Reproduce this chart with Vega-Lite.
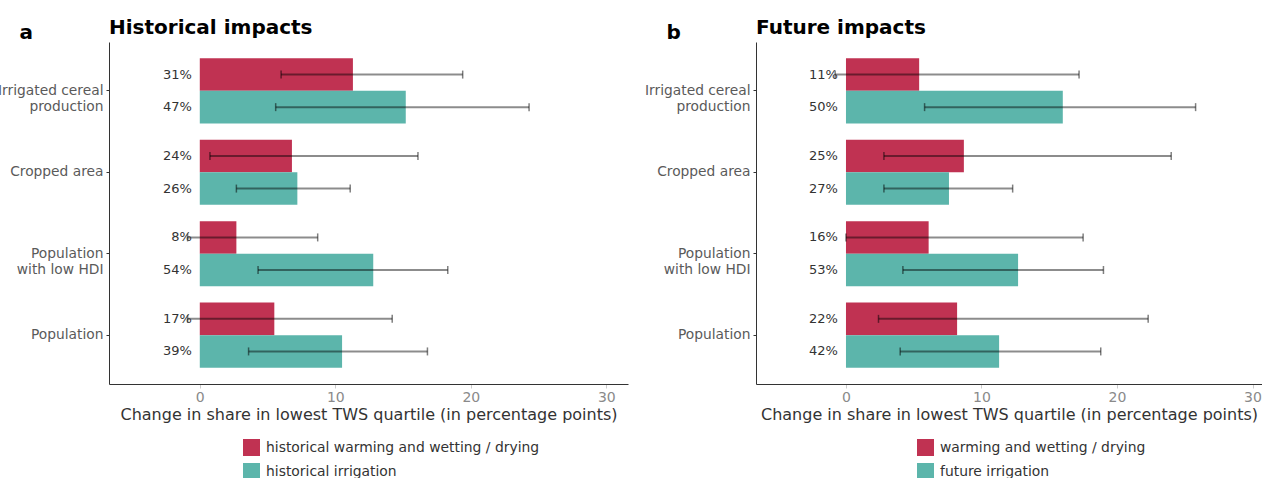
{
  "$schema": "https://vega.github.io/schema/vega-lite/v6.json",
  "background": "white",
  "padding": {"left": -3, "top": 17, "right": 0, "bottom": 0},
  "config": {
    "font": "DejaVu Sans",
    "view": {"stroke": null},
    "axis": {"grid": false},
    "title": {"anchor": "start", "frame": "group", "fontSize": 20, "fontWeight": "bold", "color": "#000000", "offset": -15.5}
  },
  "datasets": {
    "historical": [
      {"measure": "Irrigated cereal production", "driver": "historical warming and wetting / drying", "share": 11.3, "low": 6.0, "high": 19.4, "label": "31%"},
      {"measure": "Irrigated cereal production", "driver": "historical irrigation", "share": 15.2, "low": 5.6, "high": 24.3, "label": "47%"},
      {"measure": "Cropped area", "driver": "historical warming and wetting / drying", "share": 6.8, "low": 0.75, "high": 16.1, "label": "24%"},
      {"measure": "Cropped area", "driver": "historical irrigation", "share": 7.2, "low": 2.7, "high": 11.1, "label": "26%"},
      {"measure": "Population with low HDI", "driver": "historical warming and wetting / drying", "share": 2.7, "low": -0.9, "high": 8.7, "label": "8%"},
      {"measure": "Population with low HDI", "driver": "historical irrigation", "share": 12.8, "low": 4.3, "high": 18.3, "label": "54%"},
      {"measure": "Population", "driver": "historical warming and wetting / drying", "share": 5.5, "low": -0.9, "high": 14.2, "label": "17%"},
      {"measure": "Population", "driver": "historical irrigation", "share": 10.5, "low": 3.6, "high": 16.8, "label": "39%"}
    ],
    "future": [
      {"measure": "Irrigated cereal production", "driver": "warming and wetting / drying", "share": 5.4, "low": -0.8, "high": 17.2, "label": "11%"},
      {"measure": "Irrigated cereal production", "driver": "future irrigation", "share": 16.0, "low": 5.8, "high": 25.8, "label": "50%"},
      {"measure": "Cropped area", "driver": "warming and wetting / drying", "share": 8.7, "low": 2.8, "high": 24.0, "label": "25%"},
      {"measure": "Cropped area", "driver": "future irrigation", "share": 7.6, "low": 2.8, "high": 12.3, "label": "27%"},
      {"measure": "Population with low HDI", "driver": "warming and wetting / drying", "share": 6.1, "low": 0.0, "high": 17.5, "label": "16%"},
      {"measure": "Population with low HDI", "driver": "future irrigation", "share": 12.7, "low": 4.2, "high": 19.0, "label": "53%"},
      {"measure": "Population", "driver": "warming and wetting / drying", "share": 8.2, "low": 2.4, "high": 22.3, "label": "22%"},
      {"measure": "Population", "driver": "future irrigation", "share": 11.3, "low": 4.0, "high": 18.8, "label": "42%"}
    ]
  },
  "spacing": 16,
  "resolve": {
    "scale": {"x": "independent", "y": "independent", "yOffset": "independent", "color": "independent"},
    "legend": {"color": "independent"}
  },
  "hconcat": [
    {
      "width": 519,
      "height": 342,
      "title": {"text": "Historical impacts"},
      "data": {"name": "historical"},
      "encoding": {
        "y": {
          "field": "measure", "type": "nominal",
          "sort": ["Irrigated cereal production", "Cropped area", "Population with low HDI", "Population"],
          "scale": {"paddingInner": 0.2, "paddingOuter": 0.2},
          "axis": {
            "title": "a", "titleAngle": 0, "titleX": -90, "titleY": -4, "titleAlign": "left", "titleBaseline": "alphabetic",
            "titleFontSize": 20, "titleFontWeight": "bold", "titleColor": "#000000",
            "labelExpr": "datum.value == 'Irrigated cereal production' ? ['Irrigated cereal', 'production'] : datum.value == 'Population with low HDI' ? ['Population', 'with low HDI'] : datum.value",
            "labelFontSize": 13.8, "labelColor": "#5a5a5a", "labelPadding": 3, "labelLimit": 300,
            "tickSize": 3, "tickColor": "#333333", "domainColor": "#333333"
          }
        },
        "yOffset": {"field": "driver", "type": "nominal", "scale": {"domain": ["historical warming and wetting / drying", "historical irrigation"]}}
      },
      "layer": [
        {
          "mark": {"type": "bar"},
          "encoding": {
            "x": {
              "field": "share", "type": "quantitative",
              "title": "Change in share in lowest TWS quartile (in percentage points)",
              "scale": {"domain": [-6.7, 31.6], "nice": false, "zero": false},
              "axis": {
                "values": [0, 10, 20, 30], "labelFontSize": 14, "labelColor": "#8a8a8a", "labelPadding": 2,
                "tickColor": "#cccccc", "tickSize": 4, "domainColor": "#333333",
                "titleFontSize": 16, "titleFontWeight": "normal", "titleColor": "#333333", "titlePadding": 2
              }
            },
            "color": {
              "field": "driver", "type": "nominal",
              "scale": {"domain": ["historical warming and wetting / drying", "historical irrigation"], "range": ["#C03252", "#5CB5AB"]},
              "legend": {
                "title": null, "orient": "none", "legendX": 134, "legendY": 397, "padding": 0,
                "symbolType": "square", "symbolSize": 289, "symbolStrokeWidth": 0, "symbolOpacity": 1,
                "labelFontSize": 13.9, "labelColor": "#333333", "labelOffset": 6, "rowPadding": 7, "labelLimit": 400
              }
            }
          }
        },
        {
          "mark": {"type": "rule", "color": "#000000", "opacity": 0.45, "strokeWidth": 2},
          "encoding": {
            "x": {"field": "low", "type": "quantitative", "title": "Change in share in lowest TWS quartile (in percentage points)"},
            "x2": {"field": "high"}
          }
        },
        {
          "mark": {"type": "tick", "color": "#000000", "opacity": 0.5, "thickness": 1.5, "size": 8},
          "encoding": {"x": {"field": "low", "type": "quantitative", "title": "Change in share in lowest TWS quartile (in percentage points)"}}
        },
        {
          "mark": {"type": "tick", "color": "#000000", "opacity": 0.5, "thickness": 1.5, "size": 8},
          "encoding": {"x": {"field": "high", "type": "quantitative", "title": "Change in share in lowest TWS quartile (in percentage points)"}}
        },
        {
          "mark": {"type": "text", "align": "right", "baseline": "middle", "dx": -8, "fontSize": 13, "color": "#333333"},
          "encoding": {
            "x": {"datum": 0, "type": "quantitative"},
            "text": {"field": "label"}
          }
        }
      ]
    },
    {
      "width": 506,
      "height": 342,
      "title": {"text": "Future impacts"},
      "data": {"name": "future"},
      "encoding": {
        "y": {
          "field": "measure", "type": "nominal",
          "sort": ["Irrigated cereal production", "Cropped area", "Population with low HDI", "Population"],
          "scale": {"paddingInner": 0.2, "paddingOuter": 0.2},
          "axis": {
            "title": "b", "titleAngle": 0, "titleX": -90, "titleY": -4, "titleAlign": "left", "titleBaseline": "alphabetic",
            "titleFontSize": 20, "titleFontWeight": "bold", "titleColor": "#000000",
            "labelExpr": "datum.value == 'Irrigated cereal production' ? ['Irrigated cereal', 'production'] : datum.value == 'Population with low HDI' ? ['Population', 'with low HDI'] : datum.value",
            "labelFontSize": 13.8, "labelColor": "#5a5a5a", "labelPadding": 3, "labelLimit": 300,
            "tickSize": 3, "tickColor": "#333333", "domainColor": "#333333"
          }
        },
        "yOffset": {"field": "driver", "type": "nominal", "scale": {"domain": ["warming and wetting / drying", "future irrigation"]}}
      },
      "layer": [
        {
          "mark": {"type": "bar"},
          "encoding": {
            "x": {
              "field": "share", "type": "quantitative",
              "title": "Change in share in lowest TWS quartile (in percentage points)",
              "scale": {"domain": [-6.64, 30.7], "nice": false, "zero": false},
              "axis": {
                "values": [0, 10, 20, 30], "labelFontSize": 14, "labelColor": "#8a8a8a", "labelPadding": 2,
                "tickColor": "#cccccc", "tickSize": 4, "domainColor": "#333333",
                "titleFontSize": 16, "titleFontWeight": "normal", "titleColor": "#333333", "titlePadding": 2
              }
            },
            "color": {
              "field": "driver", "type": "nominal",
              "scale": {"domain": ["warming and wetting / drying", "future irrigation"], "range": ["#C03252", "#5CB5AB"]},
              "legend": {
                "title": null, "orient": "none", "legendX": 161, "legendY": 397, "padding": 0,
                "symbolType": "square", "symbolSize": 289, "symbolStrokeWidth": 0, "symbolOpacity": 1,
                "labelFontSize": 13.9, "labelColor": "#333333", "labelOffset": 6, "rowPadding": 7, "labelLimit": 400
              }
            }
          }
        },
        {
          "mark": {"type": "rule", "color": "#000000", "opacity": 0.45, "strokeWidth": 2},
          "encoding": {
            "x": {"field": "low", "type": "quantitative", "title": "Change in share in lowest TWS quartile (in percentage points)"},
            "x2": {"field": "high"}
          }
        },
        {
          "mark": {"type": "tick", "color": "#000000", "opacity": 0.5, "thickness": 1.5, "size": 8},
          "encoding": {"x": {"field": "low", "type": "quantitative", "title": "Change in share in lowest TWS quartile (in percentage points)"}}
        },
        {
          "mark": {"type": "tick", "color": "#000000", "opacity": 0.5, "thickness": 1.5, "size": 8},
          "encoding": {"x": {"field": "high", "type": "quantitative", "title": "Change in share in lowest TWS quartile (in percentage points)"}}
        },
        {
          "mark": {"type": "text", "align": "right", "baseline": "middle", "dx": -8, "fontSize": 13, "color": "#333333"},
          "encoding": {
            "x": {"datum": 0, "type": "quantitative"},
            "text": {"field": "label"}
          }
        }
      ]
    }
  ]
}
